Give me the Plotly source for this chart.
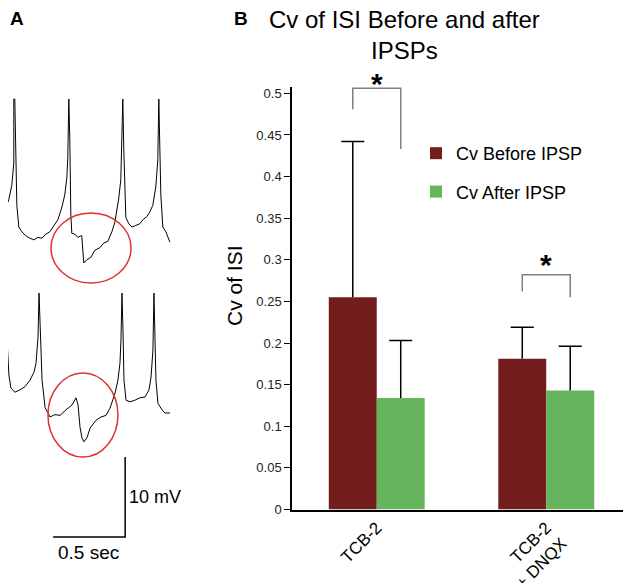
import plotly.graph_objects as go

# ---- Panel B data ----
groups = ["TCB-2", "TCB-2<br>+ DNQX"]
cv_before = [0.255, 0.181]
cv_before_err = [0.187, 0.038]
cv_after = [0.134, 0.143]
cv_after_err = [0.069, 0.053]
y_ticks = [0, 0.05, 0.1, 0.15, 0.2, 0.25, 0.3, 0.35, 0.4, 0.45, 0.5]
Y_MAX = 0.5076

# significance brackets: (group, left leg bottom, top, right leg bottom, star height)
brackets = [(0, 0.481, 0.506, 0.433, 0.520), (1, 0.262, 0.282, 0.255, 0.303)]

# ---- Panel A data (time in ms, membrane potential in mV) ----
t1 = [0, 28, 62, 83, 97, 97, 104, 111, 118, 132, 153, 181, 208, 236, 264, 292,
      319, 347, 375, 403, 431, 451, 465, 472, 479, 486, 493, 500, 521, 542, 563,
      569, 583, 604, 632, 660, 694, 722, 750, 778, 799, 812, 826, 840, 847, 854,
      861, 868, 875, 896, 917, 944, 972, 993, 1021, 1042, 1062, 1083, 1097, 1104,
      1111, 1118, 1132, 1153, 1181]
v1 = [-45.1, -44.1, -42.6, -40.8, -38.0, -30.0, -30.0, -38.3, -43.3, -46.0, -46.6,
      -47.1, -47.4, -47.6, -47.3, -47.4, -46.9, -46.6, -45.8, -45.1, -43.5, -42.0,
      -39.9, -37.3, -30.0, -35.1, -44.5, -46.8, -46.9, -47.3, -47.1, -47.1, -50.5,
      -50.1, -49.8, -48.9, -48.6, -48.0, -47.8, -46.6, -45.4, -43.9, -42.4, -40.1,
      -36.0, -30.0, -36.4, -42.6, -44.8, -45.6, -46.0, -45.8, -45.6, -45.1, -44.7,
      -44.1, -43.3, -41.0, -37.6, -30.0, -36.4, -42.0, -46.0, -46.6, -47.9]

t2 = [14, 28, 35, 42, 49, 62, 76, 104, 139, 174, 208, 236, 250, 264, 271, 278,
      292, 313, 347, 382, 417, 458, 500, 528, 542, 556, 569, 583, 604, 625, 667,
      701, 736, 764, 799, 819, 833, 840, 847, 854, 861, 875, 903, 937, 972, 1007,
      1035, 1049, 1062, 1069, 1076, 1083, 1097, 1125, 1146, 1181]
v2 = [-40.5, -39.0, -36.8, -30.0, -35.9, -40.3, -41.9, -42.4, -42.1, -41.7, -40.9,
      -39.9, -38.8, -35.5, -30.0, -34.6, -40.9, -44.3, -45.5, -45.2, -45.3, -44.6,
      -44.0, -43.1, -44.0, -46.8, -48.1, -48.6, -48.1, -46.9, -45.9, -45.5, -45.3,
      -44.4, -42.5, -40.9, -38.8, -35.9, -30.0, -34.6, -40.9, -43.4, -43.6, -43.4,
      -43.1, -43.0, -42.1, -40.5, -37.1, -30.0, -35.9, -40.9, -43.8, -44.6, -45.0,
      -45.0]

TRACE2_SHIFT = -24.25
SCALE_MS, SCALE_MV = 500, 10

RED = "#731d1d"
GREEN = "#66b55c"
FONT = "Liberation Sans, Arial, sans-serif"
BARGAP = 0.434
OFF = (1 - BARGAP) / 4

# the page body adds an 8px margin, so the figure is laid out 8px smaller
PAD = 8
W, H = 631 - PAD, 583 - PAD


def px(x):
    return (x - PAD) / W


def py(y):
    return 1 - (y - PAD) / H


fig = go.Figure()

# bars
fig.add_trace(go.Bar(x=groups, y=cv_before, name="Cv Before IPSP",
                     marker=dict(color=RED, line=dict(width=0)),
                     offsetgroup="b", legendgroup="b"))
fig.add_trace(go.Bar(x=groups, y=cv_after, name="Cv After IPSP",
                     marker=dict(color=GREEN, line=dict(width=0)),
                     offsetgroup="a", legendgroup="a"))

# upper error bars (stem + cap)
for vals, errs, grp in [(cv_before, cv_before_err, "b"), (cv_after, cv_after_err, "a")]:
    tops = [v + e for v, e in zip(vals, errs)]
    fig.add_trace(go.Scatter(
        x=groups, y=tops, mode="markers", offsetgroup=grp, showlegend=False,
        marker=dict(symbol="line-ew-open", size=16.5, color="black",
                    line=dict(width=1.5, color="black")),
        error_y=dict(type="data", symmetric=False, array=[0] * len(errs),
                     arrayminus=errs, width=0, thickness=1.5, color="black"),
        hoverinfo="skip"))

# significance brackets
for g, yl, yt, yr, ys in brackets:
    fig.add_shape(type="path", xref="x", yref="y",
                  path=f"M {g - OFF},{yl} L {g - OFF},{yt} L {g + OFF},{yt} L {g + OFF},{yr}",
                  line=dict(color="#808080", width=1.5))
    fig.add_annotation(x=g, y=ys / Y_MAX, xref="x", yref="y domain", text="<b>*</b>",
                       showarrow=False, xanchor="center", yanchor="middle", yshift=-7,
                       font=dict(size=30, color="black", family=FONT))

# panel A traces
fig.add_trace(go.Scatter(x=t1, y=v1, mode="lines", xaxis="x2", yaxis="y2",
                         line=dict(color="black", width=1), showlegend=False))
fig.add_trace(go.Scatter(x=t2, y=[v + TRACE2_SHIFT for v in v2], mode="lines",
                         xaxis="x2", yaxis="y2",
                         line=dict(color="black", width=1), showlegend=False))

# scale bar
sx, sy = 868, -84.75
fig.add_trace(go.Scatter(x=[sx - SCALE_MS, sx, sx], y=[sy, sy, sy + SCALE_MV],
                         mode="lines", xaxis="x2", yaxis="y2",
                         line=dict(color="black", width=1.5), showlegend=False))
fig.add_annotation(x=sx + 15, y=sy + SCALE_MV / 2, xref="x2", yref="y2",
                   text="10 mV", showarrow=False, xanchor="left", yanchor="middle",
                   font=dict(size=18, color="black", family=FONT))
fig.add_annotation(x=sx - SCALE_MS / 2, y=sy - 1.9, xref="x2", yref="y2",
                   text="0.5 sec", showarrow=False, xanchor="center", yanchor="middle",
                   font=dict(size=19, color="black", family=FONT))

# IPSP circles
fig.add_shape(type="circle", xref="x2", yref="y2", x0=354, x1=910, y0=-53.0, y1=-44.25,
              line=dict(color="#e03030", width=1.5))
fig.add_shape(type="circle", xref="x2", yref="y2", x0=333, x1=819, y0=-74.75, y1=-64.25,
              line=dict(color="#e03030", width=1.5))

# panel labels and titles
fig.add_annotation(x=px(17), y=py(19), xref="paper", yref="paper", text="<b>A</b>",
                   showarrow=False, xanchor="center", yanchor="middle",
                   font=dict(size=19, color="black", family=FONT))
fig.add_annotation(x=px(241), y=py(19), xref="paper", yref="paper", text="<b>B</b>",
                   showarrow=False, xanchor="center", yanchor="middle",
                   font=dict(size=19, color="black", family=FONT))
fig.add_annotation(x=px(404), y=py(35), xref="paper", yref="paper",
                   text="Cv of ISI Before and after<br>IPSPs", showarrow=False,
                   xanchor="center", yanchor="middle",
                   font=dict(size=24, color="black", family=FONT))
fig.add_annotation(x=px(235), y=py(286), xref="paper", yref="paper",
                   text="Cv of ISI", textangle=-90, showarrow=False,
                   xanchor="center", yanchor="middle",
                   font=dict(size=21, color="black", family=FONT))

fig.update_layout(
    width=W, height=H,
    margin=dict(l=0, r=0, t=0, b=0, autoexpand=False),
    paper_bgcolor="white", plot_bgcolor="white",
    font=dict(family=FONT, color="black"),
    barmode="group", bargap=BARGAP, bargroupgap=0,
    scattermode="group", scattergap=BARGAP,
    showlegend=True,
    legend=dict(x=px(416), y=py(135), xanchor="left", yanchor="top",
                font=dict(size=18, color="black", family=FONT),
                tracegroupgap=12, bgcolor="rgba(0,0,0,0)"),
    xaxis=dict(domain=[px(292), 1], range=[-0.5, 1.5], showline=True,
               linecolor="black", linewidth=1.5, ticks="", tickangle=-45,
               tickfont=dict(size=17, color="black"), showgrid=False, zeroline=False,
               anchor="y", automargin=False),
    yaxis=dict(domain=[py(509.5), py(87)], range=[0, Y_MAX],
               tickvals=y_ticks, showline=True, linecolor="black", linewidth=1.5,
               ticks="outside", ticklen=6, tickwidth=1.2, tickcolor="black",
               tickfont=dict(size=13, color="#222222"), showgrid=False,
               zeroline=False, anchor="x", automargin=False),
    xaxis2=dict(domain=[0, px(190)], range=[PAD * 500 / 72, 190 * 500 / 72],
                visible=False, anchor="y2"),
    yaxis2=dict(domain=[0, 1], range=[-90.5, -30 + (99 - PAD) / 8],
                visible=False, anchor="x2"),
)

fig.write_html("out.html")
